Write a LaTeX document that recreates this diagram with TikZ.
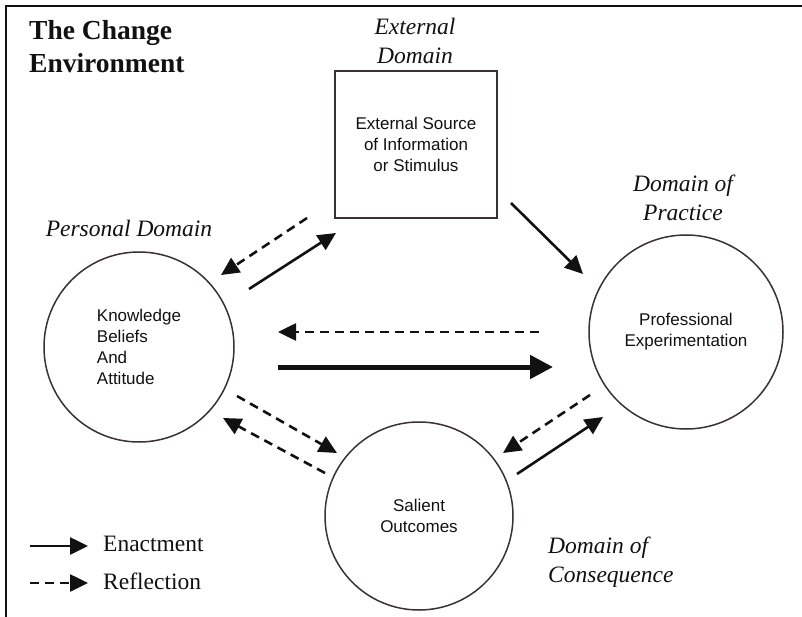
\documentclass[tikz,border=0pt]{standalone}
\usepackage{fontspec}
\setmainfont{Liberation Serif}
\newfontfamily\labelsans{Liberation Sans}
\usetikzlibrary{arrows.meta}
\definecolor{ink}{HTML}{111111}
\definecolor{rim}{HTML}{3A3232}
\begin{document}
\begin{tikzpicture}[x=1bp,y=-1bp,
  ring/.style={circle,draw=rim,line width=1.5bp,inner sep=0pt,align=center,
    font=\labelsans\fontsize{17bp}{21bp}\selectfont,text=ink},
  ital/.style={font=\itshape\fontsize{23.5bp}{28.5bp}\selectfont,align=center,text=ink,inner sep=0pt},
  plain/.style={font=\fontsize{23.5bp}{28bp}\selectfont,text=ink,inner sep=0pt,anchor=west},
  enact/.style={draw=ink,line width=2.6bp,-{Triangle[length=18bp,width=17bp]}},
  reflect/.style={enact,dash pattern=on 9bp off 6bp},
  bigenact/.style={draw=ink,line width=5bp,-{Triangle[length=23bp,width=23bp]}},
]
\useasboundingbox (0,0) rectangle (802,617);
\draw[line width=2.5bp,ink] (6,617) -- (6,6) -- (802,6);

% title
\node[font=\bfseries\fontsize{27.5bp}{33bp}\selectfont,align=left,anchor=west,inner sep=0pt,text=ink] (title) at (29,47) {The Change\\Environment};

% main nodes
\node[ring,minimum size=190bp,align=left] (know) at (139,347) {Knowledge\\Beliefs\\And\\Attitude};
\node[ring,minimum size=194bp] (prof) at (686,332) {Professional\\Experimentation};
\node[ring,minimum size=188bp] (sal) at (419,516) {Salient\\Outcomes};
\node[draw=rim,line width=2bp,minimum width=162bp,minimum height=147bp,align=center,
  font=\labelsans\fontsize{17bp}{21bp}\selectfont,text=ink] (ext) at (416,144.5) {External Source\\of Information\\or Stimulus};

% domain labels
\node[ital] (extdom) at (415,41) {External\\Domain};
\node[ital] (perdom) at (129,228) {Personal Domain};
\node[ital] (pracdom) at (683,198) {Domain of\\Practice};
\node[ital,align=left,anchor=west] (consdom) at (548,562) {Domain of\\Consequence};

% connector end points
\coordinate (a1s) at (307,218); \coordinate (a1e) at (221,275);
\coordinate (a2s) at (249,289); \coordinate (a2e) at (336,233);
\coordinate (a3s) at (511,203); \coordinate (a3e) at (583,274);
\coordinate (a4s) at (539,332); \coordinate (a4e) at (278,332);
\coordinate (a5s) at (278,367); \coordinate (a5e) at (553,367);
\coordinate (a6s) at (237,396); \coordinate (a6e) at (337,453);
\coordinate (a7s) at (325,473); \coordinate (a7e) at (223,418);
\coordinate (a8s) at (590,395); \coordinate (a8e) at (503,453);
\coordinate (a9s) at (517,474); \coordinate (a9e) at (603,417);

\draw[reflect] (a1s) -- (a1e);
\draw[enact] (a2s) -- (a2e);
\draw[enact] (a3s) -- (a3e);
\draw[reflect] (a4s) -- (a4e);
\draw[bigenact] (a5s) -- (a5e);
\draw[reflect] (a6s) -- (a6e);
\draw[reflect] (a7s) -- (a7e);
\draw[reflect] (a8s) -- (a8e);
\draw[enact] (a9s) -- (a9e);

% legend
\coordinate (l1s) at (30,546); \coordinate (l1e) at (88,546);
\coordinate (l2s) at (30,583); \coordinate (l2e) at (88,583);
\draw[enact] (l1s) -- (l1e);
\draw[reflect] (l2s) -- (l2e);
\node[plain] (enl) at (103,544) {Enactment};
\node[plain] (rfl) at (103,581) {Reflection};
\end{tikzpicture}
\end{document}
